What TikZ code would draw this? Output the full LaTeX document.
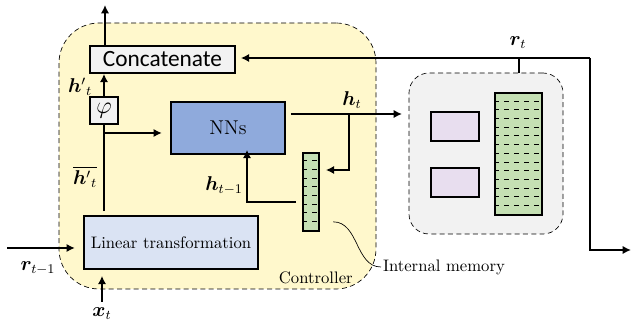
\documentclass[tikz,border=0pt]{standalone}
\usepackage{amsmath}
\usepackage{bm}
\usepackage{fontspec}
\newfontfamily\headfont{Carlito}
\usepackage{tikz}
\usetikzlibrary{positioning, calc, arrows.meta}

\definecolor{ctrlyellow}{RGB}{255,248,204}
\definecolor{nnblue}{RGB}{143,170,220}
\definecolor{linblue}{RGB}{218,227,243}
\definecolor{cellgreen}{RGB}{197,224,180}
\definecolor{boxgray}{RGB}{242,242,242}
\definecolor{headpink}{RGB}{232,222,239}

\tikzset{
  block/.style={draw, line width=1pt, inner sep=0pt},
  region/.style={draw, densely dashed, thin, inner sep=0pt},
  link/.style={line width=1.2pt, -{Latex[length=5pt,width=5pt]}},
  wire/.style={line width=1.2pt},
  cell/.style={dashed, thin},
  lbl/.style={font=\large},
}

\begin{document}
\begin{tikzpicture}[x=0.6pt, y=-0.6pt]
  \useasboundingbox (0,0) rectangle (631,325);

  % Controller and external memory regions
  \node[region, fill=ctrlyellow, rounded corners=24pt, minimum width=190.2pt, minimum height=159.6pt] (ctrl) at (217.5,156) {};
  \node[region, fill=boxgray, rounded corners=12pt, minimum width=92.4pt, minimum height=96.6pt] (mem) at (486,153.5) {};

  % Blocks
  \node[block, fill=boxgray, minimum width=87pt, minimum height=16.2pt, font=\headfont\fontsize{14}{16}\selectfont] (concat) at (162.5,59.5) {Concatenate};
  \node[block, fill=boxgray, minimum width=16.8pt, minimum height=16.2pt, font=\Large] (phi) at (104,110.5) {$\varphi$};
  \node[block, fill=nnblue, minimum width=68.4pt, minimum height=31.2pt, font=\large] (nns) at (228,128) {NNs};
  \node[block, fill=linblue, minimum width=104.4pt, minimum height=31.8pt] (lin) at (171,242.5) {Linear transformation};

  % Memory bars
  \node[block, fill=cellgreen, minimum width=9.6pt, minimum height=46.8pt] (ibar) at (311,192) {};
  \node[block, fill=cellgreen, minimum width=28.2pt, minimum height=73.2pt] (mbar) at (518.5,154) {};
  \foreach \i in {1,...,8}
    \draw[cell] ([yshift=-\i*5.2pt]ibar.north west) -- ([yshift=-\i*5.2pt]ibar.north east);
  \foreach \i in {1,...,13}
    \draw[cell] ([yshift=-\i*5.229pt]mbar.north west) -- ([yshift=-\i*5.229pt]mbar.north east);

  % Heads
  \node[block, fill=headpink, minimum width=28.8pt, minimum height=17.4pt] (headA) at (455,126.5) {};
  \node[block, fill=headpink, minimum width=28.8pt, minimum height=17.4pt] (headB) at (455,182.5) {};

  % Free ends
  \coordinate (out) at (105,5);
  \coordinate (rin) at (7,248);
  \coordinate (xin) at (102,302);
  \coordinate (hsplit) at (349,114);
  \coordinate (rcorner) at (590,58);
  \coordinate (rout) at (631,250);
  \coordinate (hprev) at (247,202);

  % Controller flow
  \draw[link] (concat.north -| out) -- (out);
  \draw[link] (phi.north) -- (phi.north |- concat.south);
  \draw[wire] ([yshift=2.4pt]lin.north -| phi) -- (phi.south);
  \draw[link] (105,133) -- ([xshift=-5pt]nns.west |- 105,133);
  \draw[link] (rin) -- ([xshift=-5pt]lin.west |- rin);
  \draw[link] (xin) -- ([yshift=-3.6pt]lin.south -| xin);

  % Hidden state
  \draw[link] ([xshift=3pt]nns.east |- hsplit) -- ([xshift=-4pt]mem.west |- hsplit);
  \draw[link] (hsplit) |- ([xshift=3.6pt]ibar.east |- 0,170);
  \draw[link] ([xshift=-3.6pt]ibar.west |- hprev) -- (hprev) -- ([yshift=3pt]nns.south -| hprev);

  % Read vector
  \draw[wire] (mem.north -| mbar) -- (mbar |- rcorner);
  \draw[link] (rcorner) -- ([xshift=3pt]concat.east |- rcorner);
  \draw[link] (rcorner) |- (rout);

  % Labels
  \node[lbl] at (80,87) {$\bm{h}'{}_t$};
  \node[lbl] at (85,177) {$\overline{\bm{h}'{}_t}$};
  \node[lbl] at (352,100) {$\bm{h}_t$};
  \node[lbl] at (224,186) {$\bm{h}_{t-1}$};
  \node[lbl] at (518,43) {$\bm{r}_t$};
  \node[lbl] at (38,268) {$\bm{r}_{t-1}$};
  \node[lbl] at (102,314) {$\bm{x}_t$};
  \node[anchor=south east, inner sep=0pt] at ([shift={(-14pt,3pt)}]ctrl.south east) {Controller};
  \draw[thin] ([xshift=8pt,yshift=6pt]ibar.south east) to[out=0, in=180] (381,267) node[right, inner sep=1pt] {Internal memory};
\end{tikzpicture}
\end{document}
